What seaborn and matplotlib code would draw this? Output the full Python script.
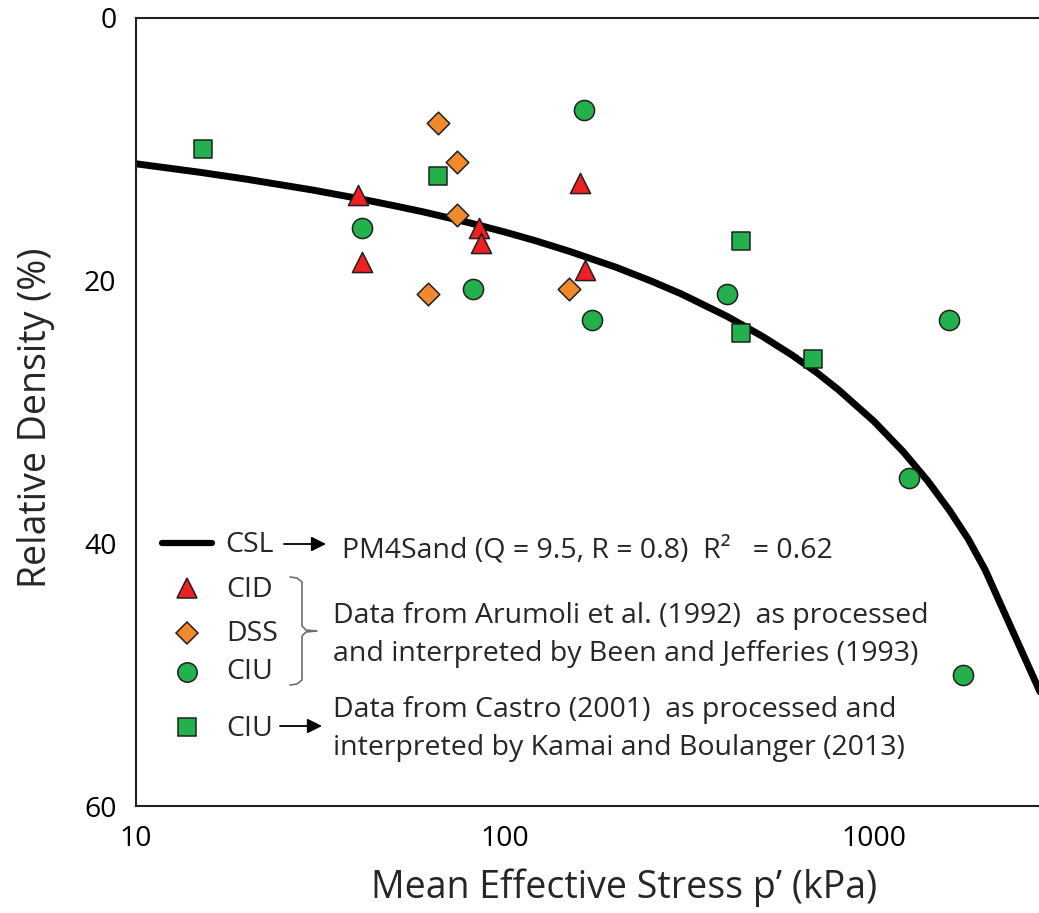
import numpy as np
import matplotlib
matplotlib.use("Agg")
import matplotlib.pyplot as plt
import seaborn as sns
from matplotlib.ticker import LogLocator, MultipleLocator, NullFormatter

# Critical state line, PM4Sand (Q = 9.5, R = 0.8)
csl_p = [10, 15, 20, 30, 40, 50, 60, 70, 80, 100, 120, 150, 200, 250, 300,
         400, 500, 600, 700, 800, 1000, 1200, 1400, 1600, 1800, 2000, 3000]
csl_dr = [11.10, 11.76, 12.28, 13.09, 13.74, 14.29, 14.76, 15.20, 15.59, 16.30, 16.93, 17.78,
          18.98, 20.05, 21.00, 22.72, 24.26, 25.67, 27.00, 28.29, 30.71, 33.02, 35.26, 37.47,
          39.66, 42.00, 53.00]

# Arumoli et al. (1992) tests
cid_p = [40, 41, 85, 86, 160, 165]
cid_dr = [13.5, 18.6, 16.0, 17.1, 12.6, 19.2]
dss_p = [66, 74, 74, 62, 149]
dss_dr = [8.0, 11.0, 15.0, 21.0, 20.6]
ciu_p = [41, 82, 164, 172, 400, 1245, 1600, 1745]
ciu_dr = [16.0, 20.6, 7.0, 23.0, 21.0, 35.0, 23.0, 50.0]

# Castro (2001) CIU tests
castro_p = [15.2, 66, 435, 435, 682]
castro_dr = [10.0, 12.0, 17.0, 24.0, 26.0]

x_ticks = [10, 100, 1000]
x_tick_labels = ["10", "100", "1000"]
y_ticks = [0, 20, 40, 60]
y_tick_labels = ["0", "20", "40", "60"]

RED = "#ED2024"
ORANGE = "#F1892D"
GREEN = "#22B14C"
EDGE = "#231F20"

sns.set_style("white")
plt.rcParams["font.family"] = ["Open Sans", "DejaVu Sans"]

W, H = 1039, 913
L, R, T, B = 136, 1050, 18, 806
fig = plt.figure(figsize=(W / 100, H / 100), dpi=100)
ax = fig.add_axes([L / W, (H - B) / H, (R - L) / W, (B - T) / H])
ax.set_xscale("log")


def px(x, y):
    """Pixel position on the canvas -> axes fraction."""
    return (x - L) / (R - L), (B - y) / (B - T)


sns.lineplot(x=csl_p, y=csl_dr, ax=ax, color="black", lw=5,
             estimator=None, sort=True, zorder=2)
ax.lines[-1].set_solid_joinstyle("round")

mk = dict(edgecolor=EDGE, linewidth=1.1, ax=ax, zorder=3, legend=False)
sns.scatterplot(x=castro_p, y=castro_dr, marker="s", s=13.5 ** 2, color=GREEN, **mk)
sns.scatterplot(x=ciu_p, y=ciu_dr, marker="o", s=14.5 ** 2, color=GREEN, **mk)
sns.scatterplot(x=dss_p, y=dss_dr, marker="D", s=11.5 ** 2, color=ORANGE, **mk)
sns.scatterplot(x=cid_p, y=cid_dr, marker="^", s=14.5 ** 2, color=RED, **mk)

ax.set_xlim(10, 3000)
ax.set_ylim(60, 0)

ax.set_xticks(x_ticks, x_tick_labels)
ax.xaxis.set_minor_locator(LogLocator(base=10, subs=np.arange(2, 10)))
ax.xaxis.set_minor_formatter(NullFormatter())
ax.set_yticks(y_ticks, y_tick_labels)
ax.yaxis.set_minor_locator(MultipleLocator(5))

ax.tick_params(which="both", direction="in", color=EDGE, width=1.2,
               labelsize=20.5, labelcolor="black", top=False, right=False)
ax.tick_params(which="major", length=8, pad=14)
ax.tick_params(which="minor", length=6.5)

for side in ["left", "bottom", "top"]:
    ax.spines[side].set_visible(True)
    ax.spines[side].set_linewidth(1.5)
    ax.spines[side].set_color(EDGE)
ax.spines["right"].set_visible(False)

ax.set_xlabel("Mean Effective Stress p\u2019 (kPa)", fontsize=27)
ax.set_ylabel("Relative Density (%)", fontsize=27)
ax.xaxis.set_label_coords(*px(624, 888))
ax.yaxis.set_label_coords(*px(36, 418))
ax.xaxis.label.set_verticalalignment("center")
ax.yaxis.label.set_verticalalignment("center")

# ---- legend panel ----
tr = ax.transAxes
fs = 20.5


def key(xp, yp, **kw):
    ax.plot(*px(xp, yp), transform=tr, clip_on=False, linestyle="none",
            markeredgecolor=EDGE, markeredgewidth=1.1, zorder=4, **kw)


def label(xp, yp, s):
    ax.text(*px(xp, yp), s, transform=tr, fontsize=fs, ha="left", va="baseline")


def arrow(x0, x1, yp):
    ax.annotate("", xy=px(x1, yp), xytext=px(x0, yp), xycoords=tr, textcoords=tr,
                arrowprops=dict(arrowstyle="-|>", lw=1.3, color="black",
                                mutation_scale=22, shrinkA=0, shrinkB=0))


x0, y0 = px(162, 543)
x1, _ = px(212, 543)
ax.plot([x0, x1], [y0, y0], transform=tr, color="black", lw=4.5, clip_on=False)
label(225, 552, "CSL")
arrow(284, 326, 544)
label(342, 558, "PM4Sand (Q = 9.5, R = 0.8)  R\u00b2   = 0.62")

key(187, 588, marker="^", markersize=14, markerfacecolor=RED)
label(226, 597, "CID")
key(187, 633, marker="D", markersize=11, markerfacecolor=ORANGE)
label(226, 641, "DSS")
key(187, 672, marker="o", markersize=14, markerfacecolor=GREEN)
label(226, 679, "CIU")

# bracket grouping the three Arumoli series
bx = [290, 297, 302, 302, 306, 317, 306, 302, 302, 297, 290]
by = [577, 578, 582, 626, 630, 631, 632, 636, 680, 684, 685]
bpts = [px(a, b) for a, b in zip(bx, by)]
ax.plot([p[0] for p in bpts], [p[1] for p in bpts], transform=tr,
        color="#6d6d6d", lw=1.2, clip_on=False)
label(333, 623, "Data from Arumoli et al. (1992)  as processed")
label(333, 661, "and interpreted by Been and Jefferies (1993)")

key(187, 727, marker="s", markersize=13, markerfacecolor=GREEN)
label(226, 736, "CIU")
arrow(280, 322, 726)
label(333, 717, "Data from Castro (2001)  as processed and")
label(333, 755, "interpreted by Kamai and Boulanger (2013)")

fig.savefig("out.png", dpi=100)
